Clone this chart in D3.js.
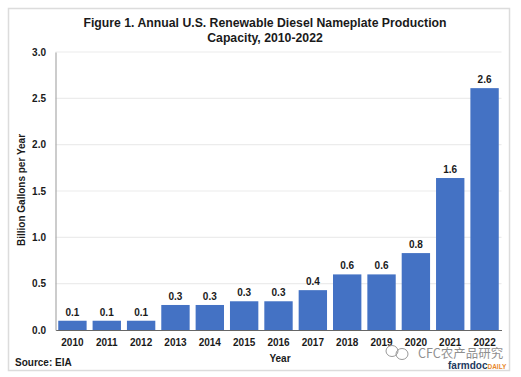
<!DOCTYPE html>
<html>
<head>
<meta charset="utf-8">
<script src="https://cdnjs.cloudflare.com/ajax/libs/d3/7.8.5/d3.min.js"></script>
<style>
  html, body { margin: 0; padding: 0; background: #fff; }
  svg { display: block; }
  text { font-family: "Liberation Sans", Arial, sans-serif; fill: #1a1a1a; }
</style>
</head>
<body>
<div id="chart"></div>
<script>
// Values
const years = ['2010', '2011', '2012', '2013', '2014', '2015', '2016', '2017', '2018', '2019', '2020', '2021', '2022'];
const capacity = [0.10, 0.10, 0.10, 0.27, 0.27, 0.31, 0.31, 0.43, 0.60, 0.60, 0.83, 1.64, 2.61];
const barLabels = ['0.1', '0.1', '0.1', '0.3', '0.3', '0.3', '0.3', '0.4', '0.6', '0.6', '0.8', '1.6', '2.6'];
const yTicks = [0, 0.5, 1, 1.5, 2, 2.5, 3];
const titleLines = ['Figure 1. Annual U.S. Renewable Diesel Nameplate Production', 'Capacity, 2010-2022'];

const W = 521, H = 377;
const margin = { top: 52, right: 19.5, bottom: 47, left: 55.5 };

const svg = d3.select('#chart').append('svg').attr('width', W).attr('height', H);

// Outer frame of the pasted chart
svg.append('rect')
  .attr('x', 8.5).attr('y', 8.5).attr('width', 501).attr('height', 362)
  .attr('fill', '#fff').attr('stroke', '#dcdcdc').attr('stroke-width', 1.5);

const x = d3.scaleBand().domain(years).range([margin.left, W - margin.right]).paddingInner(0.174).paddingOuter(0.08);
const y = d3.scaleLinear().domain([0, 3]).range([H - margin.bottom, margin.top]);

// Grid
svg.append('g')
  .selectAll('line')
  .data(yTicks.slice(1))
  .join('line')
  .attr('x1', margin.left).attr('x2', W - margin.right)
  .attr('y1', d => y(d)).attr('y2', d => y(d))
  .attr('stroke', '#ececec').attr('stroke-width', 1.2);

// Bars
svg.append('g')
  .selectAll('rect')
  .data(years)
  .join('rect')
  .attr('x', d => x(d))
  .attr('width', x.bandwidth())
  .attr('y', (d, i) => y(capacity[i]))
  .attr('height', (d, i) => y(0) - y(capacity[i]))
  .attr('fill', '#4472c4');

// Bar labels
svg.append('g')
  .selectAll('text')
  .data(years)
  .join('text')
  .attr('x', d => x(d) + x.bandwidth() / 2)
  .attr('y', (d, i) => y(capacity[i]) - 5)
  .attr('text-anchor', 'middle')
  .attr('font-size', 10)
  .attr('font-weight', 700)
  .text((d, i) => barLabels[i]);

// Axes
const xAxis = svg.append('g')
  .attr('transform', `translate(0,${y(0)})`)
  .call(d3.axisBottom(x).tickSize(0).tickPadding(9));
xAxis.select('.domain').attr('stroke', '#666').attr('stroke-width', 1.2);
xAxis.selectAll('text').attr('font-size', 10).attr('font-weight', 700)
  .style('font-family', '"Liberation Sans", Arial, sans-serif');

const yAxis = svg.append('g')
  .attr('transform', `translate(${margin.left},0)`)
  .call(d3.axisLeft(y).tickValues(yTicks).tickFormat(d3.format('.1f')).tickSize(0).tickPadding(9.5));
yAxis.select('.domain').attr('stroke', '#aaa').attr('stroke-width', 1.2);
yAxis.selectAll('text').attr('font-size', 10).attr('font-weight', 700)
  .style('font-family', '"Liberation Sans", Arial, sans-serif');

// Title
svg.append('g')
  .selectAll('text')
  .data(titleLines)
  .join('text')
  .attr('x', 265)
  .attr('y', (d, i) => 27 + i * 14.5)
  .attr('text-anchor', 'middle')
  .attr('font-size', 12.25)
  .attr('font-weight', 700)
  .text(d => d);

// Axis titles and source
svg.append('text')
  .attr('transform', 'translate(25,190) rotate(-90)')
  .attr('text-anchor', 'middle')
  .attr('font-size', 10)
  .attr('font-weight', 700)
  .text('Billion Gallons per Year');

svg.append('text')
  .attr('x', 280).attr('y', 362)
  .attr('text-anchor', 'middle')
  .attr('font-size', 10)
  .attr('font-weight', 700)
  .text('Year');

svg.append('text')
  .attr('x', 15).attr('y', 366)
  .attr('font-size', 10)
  .attr('font-weight', 700)
  .text('Source: EIA');

// Watermarks
const wm = svg.append('g').attr('fill', 'none').attr('stroke', '#9a9a9a').attr('stroke-width', 1);
wm.append('ellipse').attr('cx', 392).attr('cy', 351).attr('rx', 6).attr('ry', 5.5);
wm.append('ellipse').attr('cx', 402).attr('cy', 354).attr('rx', 6).attr('ry', 5.5);

svg.append('text')
  .attr('x', 418).attr('y', 358)
  .attr('font-size', 12.5)
  .style('font-family', '"Noto Sans CJK SC", sans-serif')
  .style('fill', '#8f8f8f')
  .text('CFC农产品研究');

const brand = svg.append('text').attr('x', 448).attr('y', 369).attr('font-size', 10).attr('font-weight', 700);
brand.append('tspan').style('fill', '#1d3a5f').text('farmdoc');
brand.append('tspan').style('fill', '#e8872b').attr('font-size', 6.5).text('DAILY');
</script>
</body>
</html>
